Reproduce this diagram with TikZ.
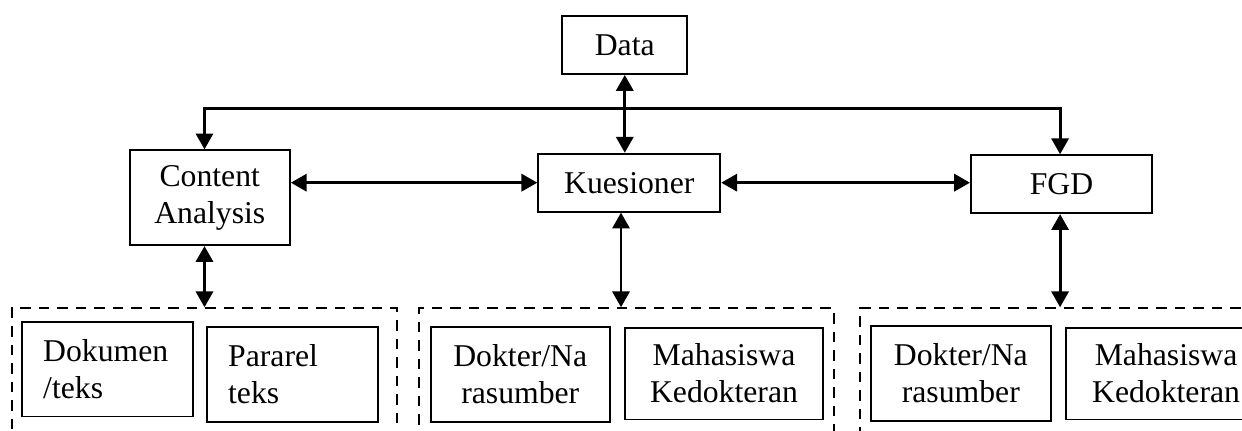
\documentclass[tikz,border=0pt]{standalone}
\usepackage{fontspec}
\setmainfont{Liberation Serif}
\usetikzlibrary{arrows.meta}

\tikzset{
  box/.style={draw, line width=0.75pt, align=center, inner sep=0pt,
    font=\fontsize{12}{14}\selectfont},
  leftbox/.style={box, align=left, inner xsep=0.28cm, text width=1.71cm},
  group/.style={draw, dashed, line width=0.75pt, dash pattern=on 4pt off 3pt},
  link/.style={line width=1.1pt, {Triangle[length=6pt,width=6.5pt]}-{Triangle[length=6pt,width=6.5pt]}}
}

\begin{document}
\begin{tikzpicture}
  \path[use as bounding box, clip] (0,0) rectangle (16.52,-5.73);

  \node[box, minimum width=1.66cm, minimum height=0.77cm] (data) at (8.31,-0.60) {Data};
  \node[box, minimum width=2.13cm, minimum height=1.26cm] (ca) at (2.79,-2.63) {Content\\Analysis};
  \node[box, minimum width=2.42cm, minimum height=0.77cm] (kues) at (8.37,-2.43) {Kuesioner};
  \node[box, minimum width=2.41cm, minimum height=0.77cm] (fgd) at (14.12,-2.45) {FGD};

  \node[group, minimum width=5.12cm, minimum height=1.82cm] (g1) at (2.72,-5.01) {};
  \node[group, minimum width=5.52cm, minimum height=1.82cm] (g2) at (8.33,-5.01) {};
  \node[group, minimum width=5.31cm, minimum height=1.82cm] (g3) at (14.10,-5.01) {};

  \node[leftbox, minimum height=1.26cm] (dok) at (1.43,-4.91) {Dokumen\\/teks};
  \node[leftbox, minimum height=1.26cm] (par) at (3.89,-4.98) {Pararel\\teks};
  \node[box, minimum width=2.38cm, minimum height=1.26cm] (dokb) at (6.92,-4.98) {Dokter/Na\\rasumber};
  \node[box, minimum width=2.63cm, minimum height=1.22cm] (mhsb) at (9.63,-4.97) {Mahasiswa\\Kedokteran};
  \node[box, minimum width=2.39cm, minimum height=1.26cm] (dokc) at (12.78,-4.97) {Dokter/Na\\rasumber};
  \node[box, minimum width=2.66cm, minimum height=1.22cm] (mhsc) at (15.51,-4.97) {Mahasiswa\\Kedokteran};

  \coordinate (bus) at (8.3,-1.44);
  \draw[link] (g1.north |- ca.north) |- (bus) -| (g3.north |- fgd.north);
  \draw[link] (data.south) -- (data.south |- kues.north);
  \draw[link] (ca.east |- kues.west) -- (kues.west);
  \draw[link] (kues.east) -- (kues.east -| fgd.west);

  \draw[link] (g1.north |- ca.south) -- (g1.north);
  \draw[link] ([xshift=-0.07cm]g2.north |- kues.south) -- ([xshift=-0.07cm]g2.north);
  \draw[link] (g3.north |- fgd.south) -- (g3.north);
\end{tikzpicture}
\end{document}
